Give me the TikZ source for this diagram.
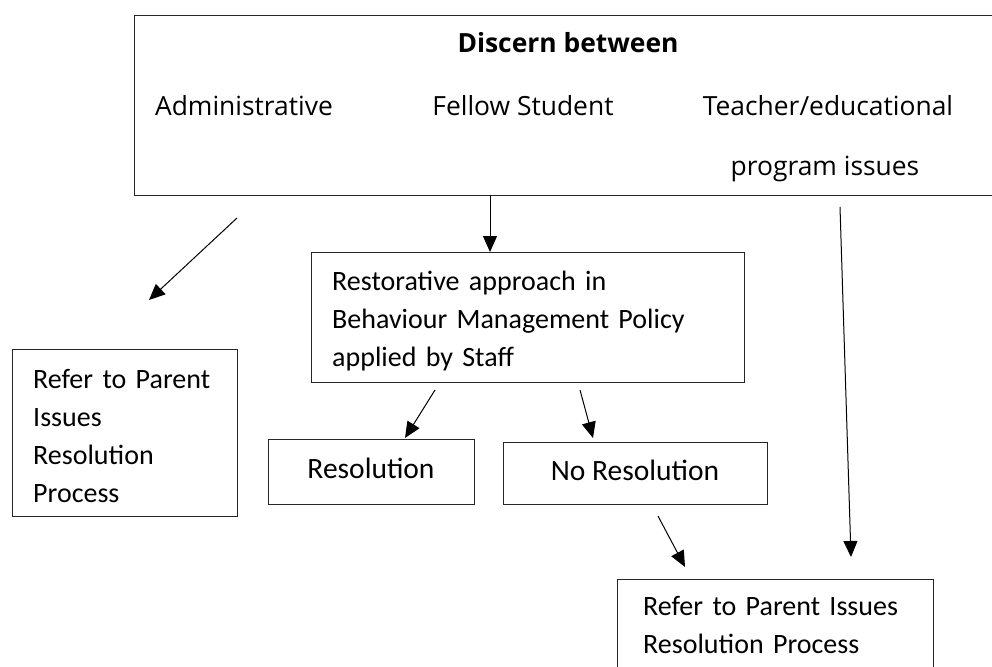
\documentclass[tikz,border=0pt]{standalone}
\usepackage{fontspec}
\setmainfont{Carlito}
\newfontfamily\topfont{Open Sans}
\usetikzlibrary{arrows.meta}
\begin{document}
\begin{tikzpicture}[x=1pt,y=-1pt,
  box/.style={draw=black!85, line width=1.2pt, rectangle, inner sep=0pt, anchor=north west},
  txt/.style={inner sep=0pt, font=\fontsize{28}{38.3}\selectfont, align=left, text width=#1, anchor=base west},
  ctxt/.style={inner sep=0pt, font=\fontsize{29.5}{34}\selectfont, anchor=base},
  ttxt/.style={inner sep=0pt, font=\topfont\fontsize{26.4}{30}\selectfont, anchor=base},
  arr/.style={-{Triangle[length=16pt,width=14pt]}, line width=1pt, draw=black}]
\useasboundingbox (0,0) rectangle (992,666);
% top box
\node[box, minimum width=880pt, minimum height=180pt] (top) at (134,15) {};
\node[ttxt, font=\topfont\bfseries\fontsize{26.4}{30}\selectfont] (disc) at (568,53) {Discern between};
\node[ttxt] (admin) at (244,115) {Administrative};
\node[ttxt] (fellow) at (523,115) {Fellow Student};
\node[ttxt] (teacher) at (828,115) {Teacher/educational};
\node[ttxt] (prog) at (825,175) {program issues};
% restorative
\node[box, minimum width=433pt, minimum height=130pt] (rest) at (311,252) {};
\node[txt=390pt] (restT) at (332,290) {Restorative approach in\\Behaviour Management Policy\\applied by Staff};
% left
\node[box, minimum width=225pt, minimum height=167pt] (left) at (12,349) {};
\node[txt=200pt] (leftT) at (33,388) {Refer to Parent\\Issues\\Resolution\\Process};
% resolution
\node[box, minimum width=206pt, minimum height=65pt] (res) at (268,439) {};
\node[ctxt] (resT) at (371,478) {Resolution};
% no resolution
\node[box, minimum width=264pt, minimum height=62pt] (nores) at (503,442) {};
\node[ctxt] (noresT) at (635,480) {No Resolution};
% bottom
\node[box, minimum width=316pt, minimum height=120pt] (bot) at (617,579) {};
\node[txt=300pt] (botT) at (643,615) {Refer to Parent Issues\\Resolution Process};
% arrows
\coordinate (a1s) at (237,218); \coordinate (a1e) at (149,300);
\coordinate (a2s) at (490,195); \coordinate (a2e) at (490,252);
\coordinate (a3s) at (840,207); \coordinate (a3e) at (851,557);
\coordinate (a4s) at (435,390); \coordinate (a4e) at (405,438);
\coordinate (a5s) at (580,390); \coordinate (a5e) at (593,438);
\coordinate (a6s) at (658,516); \coordinate (a6e) at (685,567);
\draw[arr] (a1s) -- (a1e);
\draw[arr] (a2s) -- (a2e);
\draw[arr] (a3s) -- (a3e);
\draw[arr] (a4s) -- (a4e);
\draw[arr] (a5s) -- (a5e);
\draw[arr] (a6s) -- (a6e);
\end{tikzpicture}
\end{document}
